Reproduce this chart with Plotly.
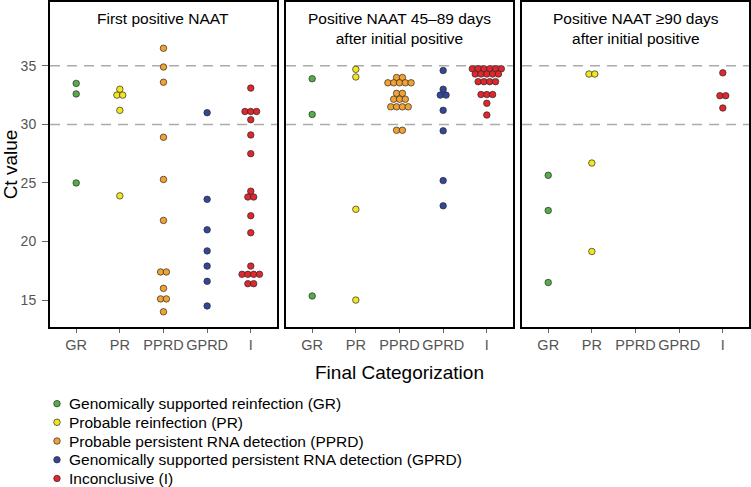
import plotly.graph_objects as go
from plotly.subplots import make_subplots

categories = ["GR", "PR", "PPRD", "GPRD", "I"]
legend_names = [
    "Genomically supported reinfection (GR)",
    "Probable reinfection (PR)",
    "Probable persistent RNA detection (PPRD)",
    "Genomically supported persistent RNA detection (GPRD)",
    "Inconclusive (I)",
]
colors = ["#55ad47", "#f4e521", "#f2a133", "#33479a", "#e0272d"]
panel_titles = [
    "First positive NAAT",
    "Positive NAAT 45–89 days<br>after initial positive",
    "Positive NAAT ≥90 days<br>after initial positive",
]

# Panel 1: First positive NAAT
p1_GR = [33.5, 32.6, 25.0]
p1_PR = [33.0, 32.5, 32.5, 31.2, 23.9]
p1_PPRD = [36.5, 34.9, 33.6, 28.9, 25.3, 21.8, 17.4, 17.4, 16.0, 15.1, 15.1, 14.0]
p1_GPRD = [31.0, 23.6, 21.0, 19.2, 17.9, 16.6, 14.5]
p1_I = [33.1, 31.1, 31.1, 31.1, 30.4, 29.1, 27.5, 24.3, 23.8, 23.8, 22.2, 20.75,
        17.9, 17.2, 17.2, 17.2, 17.2, 16.4, 16.4]

# Panel 2: Positive NAAT 45-89 days
p2_GR = [33.9, 30.85, 15.35]
p2_PR = [34.7, 34.05, 22.75, 15.0]
p2_PPRD = [34.0, 34.0, 33.55, 33.55, 33.55, 33.55, 33.55, 32.65, 32.65,
           32.15, 32.15, 32.15, 31.5, 31.5, 31.5, 31.5, 29.5, 29.5]
p2_GPRD = [34.6, 33.0, 32.5, 32.5, 31.2, 29.45, 25.2, 23.05]
p2_I = [34.75, 34.75, 34.75, 34.75, 34.75, 34.75, 34.3, 34.3, 34.3, 34.3, 34.3,
        33.65, 33.65, 33.65, 33.65, 32.55, 32.55, 32.55, 31.8, 30.8]

# Panel 3: Positive NAAT >=90 days
p3_GR = [25.65, 22.65, 16.5]
p3_PR = [34.3, 34.3, 26.7, 19.15]
p3_PPRD = []
p3_GPRD = []
p3_I = [34.4, 32.45, 32.45, 31.4]

panels = [
    [p1_GR, p1_PR, p1_PPRD, p1_GPRD, p1_I],
    [p2_GR, p2_PR, p2_PPRD, p2_GPRD, p2_I],
    [p3_GR, p3_PR, p3_PPRD, p3_GPRD, p3_I],
]

FONT = "Liberation Sans, Arial, sans-serif"
STEP = 0.133  # horizontal spacing between swarm points (category units)
MAIN_BOTTOM = 0.3271  # paper fraction where the panels start


def swarm(values, center):
    xs, ys = [], []
    groups = {}
    for v in values:
        groups[v] = groups.get(v, 0) + 1
    for v, n in groups.items():
        for i in range(n):
            xs.append(center + (i - (n - 1) / 2) * STEP)
            ys.append(v)
    return xs, ys


fig = make_subplots(rows=1, cols=3, shared_yaxes=True)

for p, panel in enumerate(panels):
    for c, vals in enumerate(panel):
        xs, ys = swarm(vals, c + 1)
        fig.add_trace(
            go.Scatter(
                x=xs if xs else [None], y=ys if ys else [None],
                mode="markers",
                name=legend_names[c],
                showlegend=False,
                marker=dict(size=6.5, color=colors[c],
                            line=dict(color="#2a2a2a", width=0.7)),
                hoverinfo="skip",
            ),
            row=1, col=p + 1,
        )

domains = [[0.0, 0.3247], [0.3376, 0.6624], [0.6753, 1.0]]
for p in range(3):
    sfx = "" if p == 0 else str(p + 1)
    fig.layout["xaxis" + sfx].update(
        domain=domains[p], range=[0.4, 5.6], automargin=False,
        tickvals=[1, 2, 3, 4, 5], ticktext=categories, tickangle=0,
        ticks="outside", ticklen=4, tickcolor="#666666", tickwidth=1.2,
        tickfont=dict(family=FONT, size=14.5, color="#555555"),
        showline=True, linecolor="black", linewidth=2, mirror=True,
        showgrid=False, zeroline=False,
    )
    fig.layout["yaxis" + sfx].update(
        domain=[MAIN_BOTTOM, 1.0], automargin=False,
        range=[12.7, 40.45],
        showline=True, linecolor="black", linewidth=2, mirror=True,
        showgrid=False, zeroline=False,
    )
    for yv in (30, 35):
        fig.add_shape(type="line", xref=f"x{sfx} domain", yref=f"y{sfx}",
                      x0=0, x1=1, y0=yv, y1=yv,
                      line=dict(color="#ababab", width=1.5, dash="10px,7px"),
                      layer="below")
    fig.add_annotation(
        text=panel_titles[p], xref=f"x{sfx} domain", yref=f"y{sfx} domain",
        x=0.5, y=0.982, xanchor="center", yanchor="top", showarrow=False,
        font=dict(family=FONT, size=15.5, color="black"),
    )

fig.layout.yaxis.update(
    tickvals=[15, 20, 25, 30, 35], ticks="outside", ticklen=6,
    tickcolor="#666666", tickwidth=1.2, ticklabelstandoff=3,
    tickfont=dict(family=FONT, size=14, color="#555555"),
    title=dict(text="Ct value", font=dict(family=FONT, size=19, color="black"),
               standoff=4),
)
fig.layout.yaxis2.update(showticklabels=False, ticks="")
fig.layout.yaxis3.update(showticklabels=False, ticks="")
fig.layout.xaxis2.update(
    title=dict(text="Final Categorization",
               font=dict(family=FONT, size=19, color="black"), standoff=13),
)

# Legend drawn below the panels on an auxiliary axis (one row per category)
legend_rows = list(range(len(categories)))
fig.add_trace(
    go.Scatter(
        x=[0] * len(legend_rows), y=legend_rows, mode="markers",
        marker=dict(size=6.5, color=colors, line=dict(color="#2a2a2a", width=0.7)),
        showlegend=False, hoverinfo="skip", xaxis="x4", yaxis="y4",
    )
)
fig.update_layout(
    xaxis4=dict(domain=[0.0, 0.02], range=[-1, 1], visible=False,
                fixedrange=True, anchor="y4"),
    yaxis4=dict(domain=[0.0, 0.1863], range=[4.35, -0.46], visible=False,
                fixedrange=True, anchor="x4"),
)
for r, name in zip(legend_rows, legend_names):
    fig.add_annotation(
        text=name, xref="paper", yref="y4", x=0.0245, y=r,
        xanchor="left", yanchor="middle", showarrow=False,
        font=dict(family=FONT, size=15.5, color="black"),
    )

fig.update_layout(
    width=751, height=487,
    margin=dict(l=50, r=2, t=2, b=2),
    paper_bgcolor="white", plot_bgcolor="white",
    font=dict(family=FONT),
    showlegend=False,
)

fig.write_html(
    "out.html",
    config={"displayModeBar": False},
    post_script="document.body.style.margin='0';document.body.style.overflow='hidden';",
)
